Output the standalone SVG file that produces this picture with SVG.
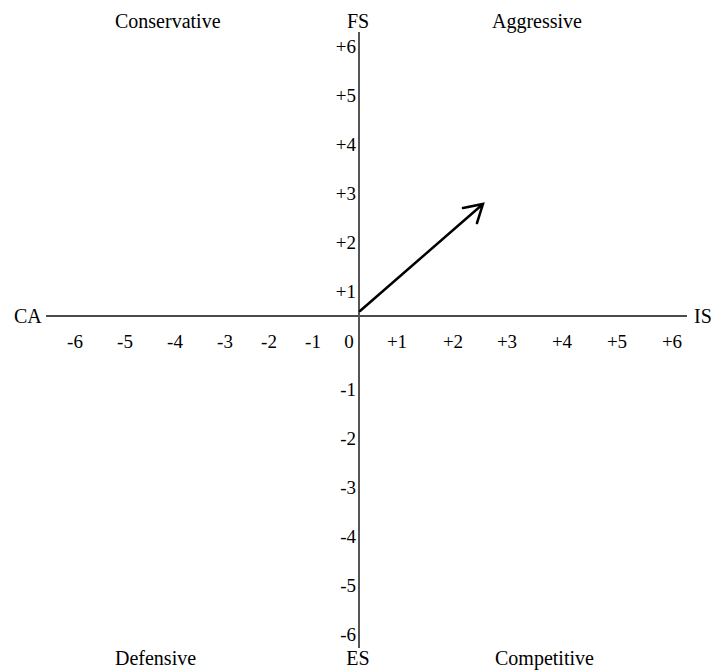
<svg xmlns="http://www.w3.org/2000/svg" width="717" height="670" viewBox="0 0 717 670">
<style>
text{font-family:"Liberation Serif","Times New Roman",serif;fill:#000}
.lbl{font-size:20px}
.tk{font-size:19px}
.ty{text-anchor:end}
.tx{text-anchor:middle}
</style>
<rect width="717" height="670" fill="#fff"/>
<g id="axes">
<line x1="46" y1="316" x2="687" y2="316" stroke="#111" stroke-width="1.5"/>
<line x1="359" y1="32" x2="359" y2="648" stroke="#555" stroke-width="2"/>
</g>
<g id="connectors">
<path d="M360 311 L483 204 M463 208 L483 204 L477 223" fill="none" stroke="#000" stroke-width="2.5" stroke-linecap="round" stroke-linejoin="miter"/>
</g>
<g id="labels">
<text class="lbl" x="115" y="28">Conservative</text>
<text class="lbl" x="358" y="28" text-anchor="middle">FS</text>
<text class="lbl" x="492" y="28">Aggressive</text>
<text class="lbl" x="115" y="665">Defensive</text>
<text class="lbl" x="358" y="665" text-anchor="middle">ES</text>
<text class="lbl" x="495" y="665">Competitive</text>
<text class="lbl" x="14" y="323">CA</text>
<text class="lbl" x="694" y="323">IS</text>
</g>
<g id="yticks" class="tk">
<text class="tk ty" x="356" y="53">+6</text>
<text class="tk ty" x="356" y="102">+5</text>
<text class="tk ty" x="356" y="151">+4</text>
<text class="tk ty" x="356" y="200">+3</text>
<text class="tk ty" x="356" y="249">+2</text>
<text class="tk ty" x="356" y="298">+1</text>
<text class="tk ty" x="356" y="396">-1</text>
<text class="tk ty" x="356" y="445">-2</text>
<text class="tk ty" x="356" y="494">-3</text>
<text class="tk ty" x="356" y="543">-4</text>
<text class="tk ty" x="356" y="592">-5</text>
<text class="tk ty" x="356" y="641">-6</text>
</g>
<g id="xticks">
<text class="tk tx" x="75" y="348">-6</text>
<text class="tk tx" x="125" y="348">-5</text>
<text class="tk tx" x="175" y="348">-4</text>
<text class="tk tx" x="225" y="348">-3</text>
<text class="tk tx" x="269" y="348">-2</text>
<text class="tk tx" x="313" y="348">-1</text>
<text class="tk tx" x="349" y="348">0</text>
<text class="tk tx" x="397" y="348">+1</text>
<text class="tk tx" x="453" y="348">+2</text>
<text class="tk tx" x="507" y="348">+3</text>
<text class="tk tx" x="562" y="348">+4</text>
<text class="tk tx" x="617" y="348">+5</text>
<text class="tk tx" x="672" y="348">+6</text>
</g>
</svg>
